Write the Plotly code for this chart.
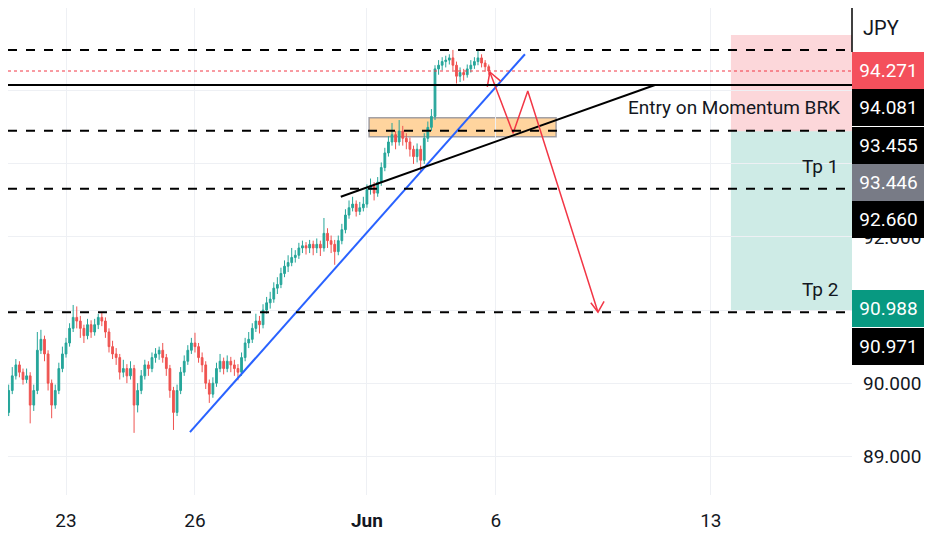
import plotly.graph_objects as go

# ---- candle data (2h bars, bar index 0 = May 23 00:00, weekends skipped) ----
bar_index = list(range(-18, 119))
first_open = 89.55
closes = [
    89.30, 89.60, 89.90, 90.10, 90.25, 90.15, 90.05, 90.10, 89.70, 89.90,
    90.45, 90.60, 90.40, 90.00, 89.70, 89.90, 90.20, 90.40,
    90.55, 90.75, 90.90, 90.85, 90.75, 90.65, 90.80, 90.70, 90.80, 90.90,
    90.85, 90.70, 90.50, 90.40, 90.35, 90.15, 90.20, 90.10, 90.20, 89.70,
    89.90, 90.10, 90.25, 90.20, 90.35, 90.40, 90.45, 90.35, 90.20, 89.90,
    89.60, 89.90, 90.15, 90.30, 90.45, 90.55, 90.50, 90.35, 90.25, 90.00,
    89.85, 90.00, 90.20, 90.30, 90.20, 90.30, 90.25, 90.20, 90.15, 90.35,
    90.55, 90.60, 90.75, 90.85, 90.80, 91.00, 91.10, 91.15, 91.30, 91.35,
    91.50, 91.60, 91.65, 91.72, 91.75, 91.85, 91.88, 91.85, 91.90, 91.85,
    91.90, 91.85, 92.05, 91.95, 91.90, 91.80, 91.95, 92.10, 92.30, 92.40,
    92.45, 92.35, 92.40, 92.45, 92.65, 92.70, 92.60, 92.75, 92.95, 93.15,
    93.30, 93.40, 93.30, 93.45, 93.35, 93.30, 93.20, 93.10, 93.20, 93.05,
    93.35, 93.50, 93.65, 94.30, 94.35, 94.40, 94.42, 94.45, 94.35, 94.20,
    94.25, 94.22, 94.30, 94.35, 94.40, 94.45, 94.38, 94.33, 94.271,
]
highs = [
    89.62, 89.68, 89.98, 90.22, 90.33, 90.30, 90.20, 90.20, 90.15, 89.98,
    90.70, 90.73, 90.65, 90.45, 90.05, 89.98, 90.28, 90.50,
    90.62, 90.82, 91.07, 91.05, 90.92, 90.80, 90.88, 90.86, 90.88, 90.95,
    90.97, 90.90, 90.75, 90.58, 90.48, 90.40, 90.32, 90.26, 90.30, 90.25,
    90.00, 90.18, 90.32, 90.30, 90.42, 90.48, 90.50, 90.55, 90.40, 90.25,
    89.95, 89.98, 90.22, 90.38, 90.52, 90.62, 90.69, 90.55, 90.42, 90.30,
    90.05, 90.08, 90.28, 90.40, 90.35, 90.38, 90.36, 90.32, 90.26, 90.42,
    90.62, 90.70, 90.82, 90.95, 90.92, 91.08, 91.18, 91.25, 91.38, 91.45,
    91.58, 91.68, 91.75, 91.85, 91.82, 91.92, 91.95, 91.93, 91.96, 91.95,
    91.98, 91.95, 92.26, 92.12, 92.02, 91.96, 92.02, 92.18, 92.38, 92.50,
    92.55, 92.50, 92.48, 92.55, 92.72, 92.80, 92.75, 92.82, 93.02, 93.22,
    93.38, 93.56, 93.45, 93.60, 93.52, 93.42, 93.36, 93.25, 93.28, 93.25,
    93.42, 93.58, 93.75, 94.35, 94.42, 94.46, 94.48, 94.50, 94.56, 94.40,
    94.32, 94.30, 94.36, 94.42, 94.46, 94.56, 94.50, 94.42, 94.36,
]
lows = [
    89.15, 89.25, 89.55, 89.85, 90.05, 90.08, 89.98, 90.00, 89.45, 89.62,
    89.85, 90.40, 90.30, 89.90, 89.52, 89.65, 89.85, 90.15,
    90.35, 90.50, 90.70, 90.75, 90.62, 90.55, 90.60, 90.62, 90.65, 90.74,
    90.78, 90.62, 90.42, 90.33, 90.25, 90.05, 90.08, 90.00, 90.05, 89.32,
    89.60, 89.85, 90.05, 90.10, 90.15, 90.28, 90.32, 90.28, 90.10, 89.80,
    89.36, 89.55, 89.85, 90.10, 90.25, 90.40, 90.42, 90.28, 90.15, 89.92,
    89.73, 89.80, 89.95, 90.15, 90.12, 90.15, 90.15, 90.10, 90.04, 90.10,
    90.30, 90.48, 90.55, 90.70, 90.68, 90.75, 90.95, 91.02, 91.10, 91.22,
    91.30, 91.45, 91.52, 91.60, 91.65, 91.70, 91.78, 91.76, 91.78, 91.75,
    91.78, 91.74, 91.80, 91.85, 91.78, 91.62, 91.75, 91.90, 92.05, 92.25,
    92.35, 92.28, 92.30, 92.35, 92.40, 92.58, 92.50, 92.55, 92.70, 92.90,
    93.10, 93.25, 93.20, 93.25, 93.25, 93.20, 93.10, 93.00, 93.02, 92.90,
    93.00, 93.30, 93.45, 93.60, 94.22, 94.28, 94.32, 94.36, 94.28, 94.10,
    94.12, 94.14, 94.18, 94.25, 94.30, 94.35, 94.32, 94.26, 94.22,
]
opens = [first_open] + closes[:-1]

# ---- axis ticks ----
x_tick_pos = [0, 36, 84, 120, 180]
x_tick_text = ["23", "26", "<b>Jun</b>", "6", "13"]
y_tick_vals = [89, 90, 91, 92, 93, 94]
# labels at 91, 93, 94 are hidden behind the price-scale tags in the original
y_tick_text = ["89.000", "90.000", "", "92.000", "", ""]
x_range = [-16.19, 219.4]
y_range = [88.47, 95.133]

# ---- drawings (bar index, price) ----
high_line = 94.56
last_price = 94.271
entry_level = 94.081
dashed_levels = [93.455, 92.660, 90.971]
blue_trend_x = [34.6, 128.1]
blue_trend_y = [89.33, 94.50]
black_trend_x = [76.7, 164.4]
black_trend_y = [92.55, 94.08]
zone_x = [84.6, 136.8]
zone_y = [93.37, 93.63]
path_x = [118.3, 124.8, 128.9, 148.5]
path_y = [94.257, 93.42, 93.997, 90.971]
head1_x = [117.6, 118.3, 121.4]
head1_y = [94.055, 94.257, 94.13]
head2_x = [146.5, 148.5, 150.2]
head2_y = [91.10, 90.971, 91.12]
pos_x = [185.6, 219.4]
pos_entry = 93.446
pos_stop = 94.763
pos_target = 90.988

# price-scale labels: (value, bg colour, vertical pixel shift)
label_values = [94.271, 94.081, 93.455, 93.446, 92.660, 90.988, 90.971]
label_colors = ["#f4505c", "#000000", "#000000", "#787b86", "#000000", "#089981", "#000000"]
label_shifts = [0.5, -22.6, -14.9, -51.2, -30.7, 2.0, -33.8]

FONT = "Roboto, sans-serif"

fig = go.Figure()

fig.add_trace(go.Candlestick(
    x=bar_index, open=opens, high=highs, low=lows, close=closes,
    increasing=dict(line=dict(color="#26a69a", width=1), fillcolor="#26a69a"),
    decreasing=dict(line=dict(color="#ef5350", width=1), fillcolor="#ef5350"),
    whiskerwidth=0, showlegend=False, hoverinfo="skip",
))

fig.add_trace(go.Scatter(x=blue_trend_x, y=blue_trend_y, mode="lines",
                         line=dict(color="#2962ff", width=2), showlegend=False, hoverinfo="skip"))
fig.add_trace(go.Scatter(x=black_trend_x, y=black_trend_y, mode="lines",
                         line=dict(color="#000000", width=2), showlegend=False, hoverinfo="skip"))
for xs, ys in [(path_x, path_y), (head1_x, head1_y), (head2_x, head2_y)]:
    fig.add_trace(go.Scatter(x=xs, y=ys, mode="lines",
                             line=dict(color="#f23645", width=1.5), showlegend=False, hoverinfo="skip"))

shapes = []
# position tool zones
shapes.append(dict(type="rect", xref="x", yref="y", x0=pos_x[0], x1=pos_x[1], y0=pos_entry, y1=pos_stop,
                   fillcolor="rgba(242,54,69,0.2)", line=dict(width=0), layer="below"))
shapes.append(dict(type="rect", xref="x", yref="y", x0=pos_x[0], x1=pos_x[1], y0=pos_target, y1=pos_entry,
                   fillcolor="rgba(8,153,129,0.2)", line=dict(width=0), layer="below"))
# orange zone
shapes.append(dict(type="rect", xref="x", yref="y", x0=zone_x[0], x1=zone_x[1], y0=zone_y[0], y1=zone_y[1],
                   fillcolor="rgba(255,160,40,0.45)", line=dict(color="rgba(140,140,150,0.8)", width=1.5),
                   layer="below"))
# horizontal lines
shapes.append(dict(type="line", xref="paper", yref="y", x0=0, x1=1, y0=high_line, y1=high_line,
                   line=dict(color="#000000", width=2, dash="dash")))
shapes.append(dict(type="line", xref="paper", yref="y", x0=0, x1=1, y0=last_price, y1=last_price,
                   line=dict(color="#f23645", width=1, dash="dot")))
shapes.append(dict(type="line", xref="paper", yref="y", x0=0, x1=1, y0=entry_level, y1=entry_level,
                   line=dict(color="#000000", width=2)))
for lv in dashed_levels:
    shapes.append(dict(type="line", xref="paper", yref="y", x0=0, x1=1, y0=lv, y1=lv,
                       line=dict(color="#000000", width=2, dash="dash")))
shapes.append(dict(type="line", xref="paper", yref="paper", x0=1, x1=1, y0=1 - 44 / 487, y1=1,
                   line=dict(color="#000000", width=1.5)))

annotations = []
annotations.append(dict(text="Entry on Momentum BRK", xref="x", yref="y", x=216.6, y=93.765,
                        xanchor="right", yanchor="middle", showarrow=False,
                        font=dict(family=FONT, size=19, color="#131722")))
annotations.append(dict(text="Tp 1", xref="x", yref="y", x=216.0, y=92.97,
                        xanchor="right", yanchor="middle", showarrow=False,
                        font=dict(family=FONT, size=19, color="#131722")))
annotations.append(dict(text="Tp 2", xref="x", yref="y", x=216.0, y=91.275,
                        xanchor="right", yanchor="middle", showarrow=False,
                        font=dict(family=FONT, size=19, color="#131722")))
annotations.append(dict(text="JPY", xref="paper", yref="paper", x=1, y=1, xshift=9, yshift=-20,
                        xanchor="left", yanchor="middle", showarrow=False,
                        font=dict(family=FONT, size=20, color="#131722")))
for v, c, s in zip(label_values, label_colors, label_shifts):
    annotations.append(dict(text=f"{v:.3f}", xref="paper", yref="y", x=1, y=v, yshift=s,
                            xanchor="left", yanchor="middle", showarrow=False,
                            width=73, height=37, bgcolor=c, borderpad=0, borderwidth=0,
                            align="center", valign="middle",
                            font=dict(family=FONT, size=19, color="#ffffff")))

fig.update_layout(
    width=924, height=542,
    margin=dict(l=0, r=80, t=0, b=55),
    paper_bgcolor="#ffffff", plot_bgcolor="#ffffff",
    shapes=shapes, annotations=annotations,
    showlegend=False,
    xaxis=dict(range=x_range, tickvals=x_tick_pos, ticktext=x_tick_text,
               showgrid=True, gridcolor="#eef0f4", gridwidth=1, zeroline=False,
               showline=False, ticks="", rangeslider=dict(visible=False),
               ticklabelstandoff=12,
               tickfont=dict(family=FONT, size=19, color="#131722")),
    yaxis=dict(range=y_range, side="right", tickvals=y_tick_vals, ticktext=y_tick_text,
               showgrid=True, gridcolor="#eef0f4", gridwidth=1, zeroline=False,
               showline=False, ticks="", ticklabelstandoff=10,
               tickfont=dict(family=FONT, size=19, color="#131722")),
)

fig.write_html("out.html")
